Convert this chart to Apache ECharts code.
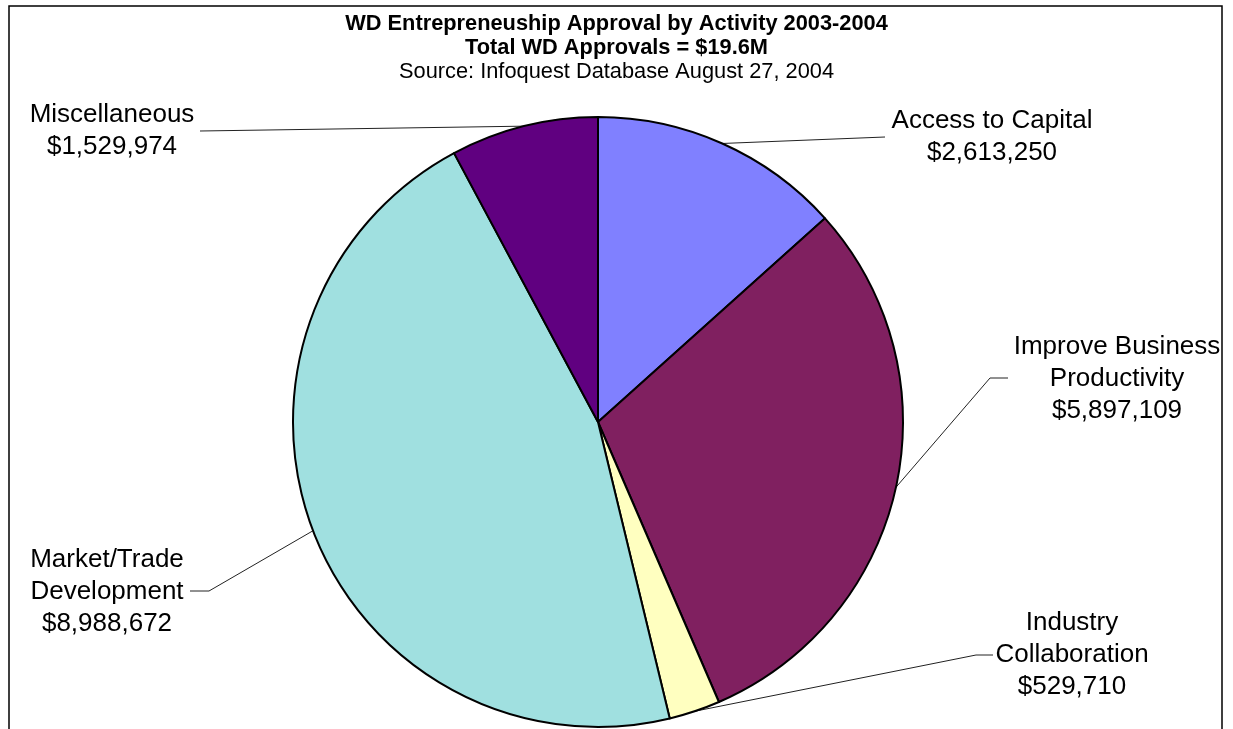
<!DOCTYPE html>
<html>
<head>
<meta charset="utf-8">
<script src="https://cdn.jsdelivr.net/npm/echarts@6/dist/echarts.min.js"></script>
<style>
html,body{margin:0;padding:0;background:#fff;}
#chart{width:1233px;height:729px;}
</style>
</head>
<body>
<div id="chart"></div>
<script>
const categories = ['Access to Capital', 'Improve Business\nProductivity', 'Industry\nCollaboration', 'Market/Trade\nDevelopment', 'Miscellaneous'];
const values = [2613250, 5897109, 529710, 8988672, 1529974];
const colors = ['#8080FF', '#802060', '#FFFFC0', '#A0E0E0', '#600080'];
const titleLines = ['WD Entrepreneuship Approval by Activity 2003-2004', 'Total WD Approvals = $19.6M', 'Source: Infoquest Database August 27, 2004'];

// label placement (style): label center, and label-line bend/end points
const labelPlacement = [
  {x: 992, y: 137, line: [[885, 137]]},
  {x: 1117, y: 379, line: [[990, 378], [1008, 378]]},
  {x: 1072, y: 655, line: [[976, 655], [993, 655]]},
  {x: 107, y: 592, line: [[209, 591], [190, 591]]},
  {x: 112, y: 131, line: [[200, 131]]}
];

const chart = echarts.init(document.getElementById('chart'), null, {renderer: 'canvas'});
const font = 'Liberation Sans, Arial, sans-serif';
chart.setOption({
  backgroundColor: '#fff',
  animation: false,
  title: [
    {text: titleLines[0], left: 'center', top: 12, padding: 0, textStyle: {fontFamily: font, fontSize: 21.8, fontWeight: 'bold', color: '#000', lineHeight: 24}},
    {text: titleLines[1], left: 'center', top: 36, padding: 0, textStyle: {fontFamily: font, fontSize: 21.8, fontWeight: 'bold', color: '#000', lineHeight: 24}},
    {text: titleLines[2], left: 'center', top: 60, padding: 0, textStyle: {fontFamily: font, fontSize: 21.8, fontWeight: 'normal', color: '#000', lineHeight: 24}}
  ],
  graphic: [{
    type: 'rect', z: 100,
    shape: {x: 9, y: 6, width: 1213, height: 760},
    style: {fill: 'none', stroke: '#000', lineWidth: 1.5}
  }],
  series: [{
    type: 'pie',
    center: [598, 422],
    radius: [0, 305],
    startAngle: 90,
    clockwise: true,
    avoidLabelOverlap: false,
    itemStyle: {borderColor: '#000', borderWidth: 2},
    label: {
      show: true, position: 'outside',
      fontFamily: font, fontSize: 26, color: '#000', lineHeight: 32, align: 'center',
      formatter: p => p.name + '\n$' + p.value.toLocaleString('en-US')
    },
    labelLine: {show: true, length: 10, length2: 10, smooth: false, lineStyle: {color: '#222', width: 1}},
    labelLayout: function (params) {
      const pl = labelPlacement[params.dataIndex];
      const start = params.labelLinePoints ? params.labelLinePoints[0] : null;
      const res = {x: pl.x, y: pl.y, align: 'center', verticalAlign: 'middle'};
      if (start) {
        const pts = [start].concat(pl.line);
        if (pts.length === 2) pts.push(pl.line[0]);
        res.labelLinePoints = pts;
      }
      return res;
    },
    emphasis: {disabled: true},
    data: categories.map((c, i) => ({name: c, value: values[i], itemStyle: {color: colors[i]}}))
  }]
});
</script>
</body>
</html>
